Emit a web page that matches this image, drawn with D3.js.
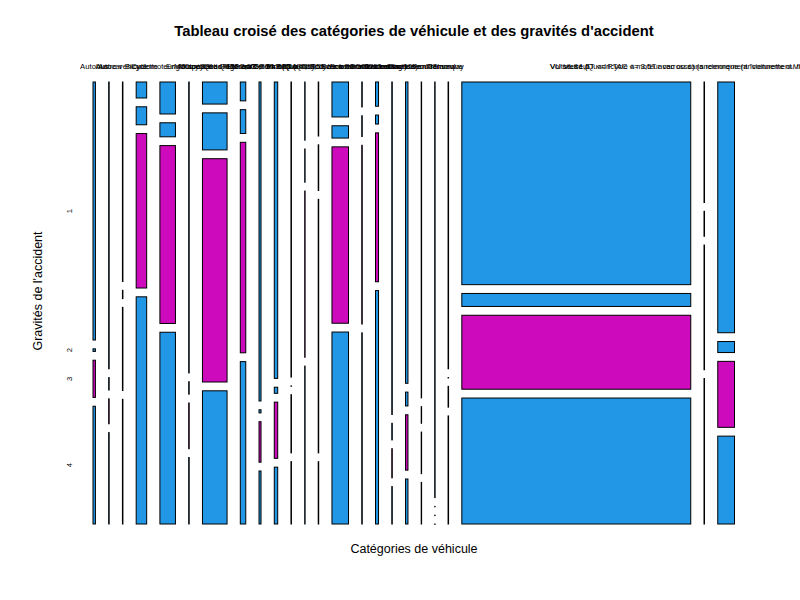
<!DOCTYPE html>
<html>
<head>
<meta charset="utf-8">
<script src="https://cdn.jsdelivr.net/npm/d3@7"></script>
<style>
  body { margin: 0; background: #fff; }
  text { font-family: "Liberation Sans", Arial, sans-serif; }
</style>
</head>
<body>
<div id="chart"></div>
<script>

// Vehicle categories (x, column order of the mosaic)
const categories = [
  "Autobus",
  "Autocar",
  "Autre véhicule",
  "Bicyclette",
  "Cyclomoteur <50cm3",
  "Engin spécial",
  "Motocyclette > 125 cm3",
  "Motocyclette > 50 cm3 et <= 125 cm3",
  "PL > 3,5T + remorque",
  "PL seul 3,5T <PTCA <= 7,5T",
  "PL seul > 7,5T",
  "Quad léger <= 50 cm3 (Quadricycle à moteur non carrossé)",
  "Quad lourd > 50 cm3 (Quadricycle à moteur non carrossé)",
  "Scooter < 50 cm3",
  "Scooter > 125 cm3",
  "Scooter > 50 cm3 et <= 125 cm3",
  "Tracteur agricole",
  "Tracteur routier + semi-remorque",
  "Tracteur routier seul",
  "Train",
  "Tramway",
  "VL seul",
  "Voiturette (Quadricycle à moteur carrossé) (anciennement \"voiturette ou tricycle à moteur\")",
  "VU seul 1,5T <= PTAC <= 3,5T avec ou sans remorque (anciennement VU seul 1,5T <= PTAC <= 3,5T)"
];

// Accident severity levels (y, top to bottom)
const gravites = ["1", "2", "3", "4"];

// Counts per category, one value per severity level
const grav1 = [298, 69, 48, 80, 237, 70, 259, 49, 307, 485, 71, 7, 13, 276, 6, 35, 80, 348, 38, 20, 69, 22138, 29, 2003];
const grav2 = [3, 3, 2, 90, 104, 3, 435, 62, 3, 10, 0, 4, 11, 97, 5, 13, 4, 16, 2, 0, 0, 1420, 6, 88];
const grav3 = [43, 6, 20, 773, 1318, 11, 2622, 547, 39, 92, 14, 20, 61, 1392, 43, 215, 7, 64, 5, 0, 5, 8081, 30, 527];
const grav4 = [136, 22, 30, 1137, 1421, 16, 1564, 422, 51, 93, 15, 19, 15, 1515, 46, 337, 9, 52, 5, 0, 26, 13761, 35, 702];

const fillColors = ["#2297E6", "#2297E6", "#CD0BBC", "#2297E6"];

function mosaicplot() {

  let width = 800,
    height = 600,
    plot = { left: 93, right: 734.5, top: 82, bottom: 524 },
    gapX = 13.25,
    gapY = 8.8;

  function chart(selector, rows) {

    const svg = d3.select(selector)
      .append("svg")
        .attr("width", width)
        .attr("height", height);

    svg.append("rect")
      .attr("width", width)
      .attr("height", height)
      .attr("fill", "#fff");

    // one object per column with its cells
    const cols = categories.map((c, i) => {
      const vals = rows.map(r => r[i]);
      return { name: c, vals: vals, total: d3.sum(vals) };
    });

    const N = d3.sum(cols, d => d.total);
    const availW = (plot.right - plot.left) - gapX * (cols.length - 1);
    const availH = (plot.bottom - plot.top) - gapY * (gravites.length - 1);

    const xScale = d3.scaleLinear().domain([0, N]).range([0, availW]);

    let cum = 0;
    cols.forEach((d, i) => {
      d.x0 = plot.left + i * gapX + xScale(cum);
      cum += d.total;
      d.x1 = plot.left + i * gapX + xScale(cum);
      const yScale = d3.scaleLinear().domain([0, d.total]).range([0, availH]);
      let cy = 0;
      d.cells = d.vals.map((v, j) => {
        const cell = {
          g: j,
          x0: d.x0,
          x1: d.x1,
          y0: plot.top + j * gapY + yScale(cy)
        };
        cy += v;
        cell.y1 = plot.top + j * gapY + yScale(cy);
        return cell;
      });
    });

    const colG = svg.selectAll(".col")
      .data(cols)
      .enter()
      .append("g")
        .attr("class", "col");

    colG.selectAll("rect")
      .data(d => d.cells)
      .enter()
      .append("rect")
        .attr("x", d => d.x0)
        .attr("y", d => d.y0)
        .attr("width", d => Math.max(d.x1 - d.x0, 0.4))
        .attr("height", d => Math.max(d.y1 - d.y0, 0.4))
        .attr("fill", d => fillColors[d.g])
        .attr("stroke", "#000")
        .attr("stroke-width", 1);

    // category labels over the columns (they overlap, as in the original)
    colG.append("text")
      .attr("x", d => (d.x0 + d.x1) / 2)
      .attr("y", 69)
      .attr("text-anchor", "middle")
      .style("font-size", "7.7px")
      .attr("fill", "#000")
      .text(d => d.name);

    // severity labels follow the first column
    const first = cols[0];
    svg.selectAll(".ylab")
      .data(first.cells)
      .enter()
      .append("text")
        .attr("class", "ylab")
        .attr("transform", d => "translate(72," + ((d.y0 + d.y1) / 2) + ") rotate(-90)")
        .attr("text-anchor", "middle")
        .style("font-size", "7.7px")
        .attr("fill", "#000")
        .text((d, i) => gravites[i]);

    // title and axis titles
    svg.append("text")
      .attr("x", 414)
      .attr("y", 36)
      .attr("text-anchor", "middle")
      .style("font-size", "14.8px")
      .style("font-weight", "bold")
      .text("Tableau croisé des catégories de véhicule et des gravités d'accident");

    svg.append("text")
      .attr("x", 414)
      .attr("y", 553)
      .attr("text-anchor", "middle")
      .style("font-size", "12.5px")
      .text("Catégories de véhicule");

    svg.append("text")
      .attr("transform", "translate(42,291) rotate(-90)")
      .attr("text-anchor", "middle")
      .style("font-size", "12.5px")
      .text("Gravités de l'accident");

    return chart;
  }

  return chart;
}

mosaicplot()("#chart", [grav1, grav2, grav3, grav4]);

</script>
</body>
</html>
